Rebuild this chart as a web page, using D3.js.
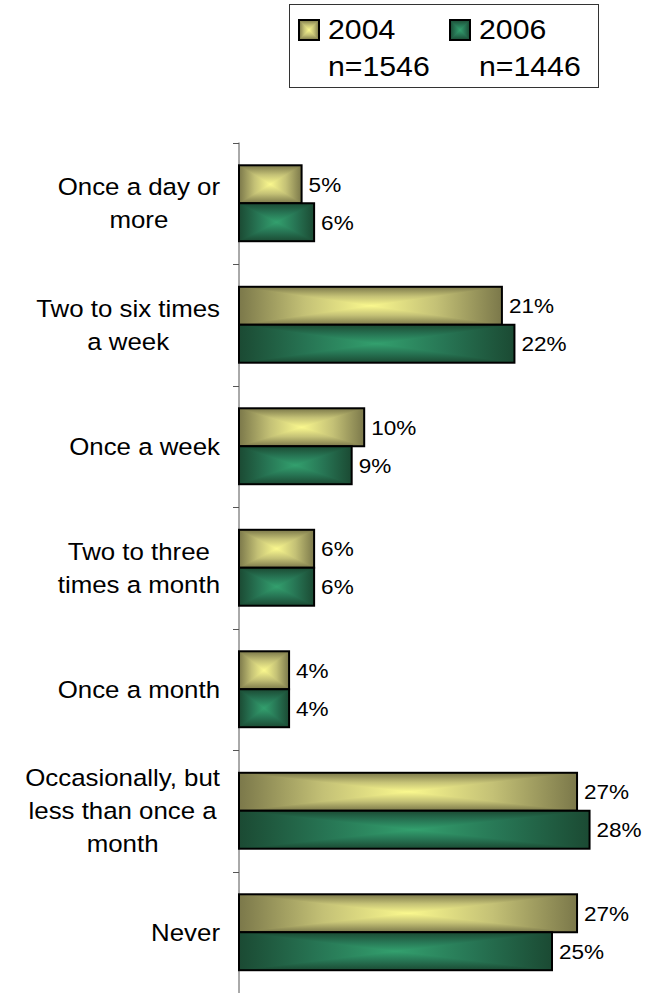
<!DOCTYPE html>
<html><head><meta charset="utf-8">
<script src="https://cdn.jsdelivr.net/npm/d3@7"></script>
<style>
html,body{margin:0;padding:0;background:#fff;}
svg{display:block;}
text{font-family:"Liberation Sans",Arial,sans-serif;fill:#000;}
</style></head>
<body>
<svg id="chart" width="658" height="993"></svg>
<script>
const categories = [
  ["Once a day or","more"],
  ["Two to six times","a week"],
  ["Once a week"],
  ["Two to three","times a month"],
  ["Once a month"],
  ["Occasionally, but","less than once a","month"],
  ["Never"]
];
const series = ["2004","2006"];
const sampleSizes = ["n=1546","n=1446"];
const values2004 = [5, 21, 10, 6, 4, 27, 27];
const values2006 = [6, 22, 9, 6, 4, 28, 25];
const valueLabels2004 = ["5%","21%","10%","6%","4%","27%","27%"];
const valueLabels2006 = ["6%","22%","9%","6%","4%","28%","25%"];

const svg = d3.select("#chart");
const SX = 1.1; // horizontal text stretch

const colors = {
  "2004": {edge:"#7b784a", mid:"#c4c176", center:"#faf88e"},
  "2006": {edge:"#1b4a33", mid:"#277554", center:"#33a06e"}
};

const defs = svg.append("defs");
const dirs = {
  top:    {x1:0,y1:0,x2:0,y2:1},
  bottom: {x1:0,y1:1,x2:0,y2:0}
};
series.forEach(s => {
  Object.entries(dirs).forEach(([k,d]) => {
    const g = defs.append("linearGradient").attr("id", `g${s}${k}`)
      .attr("x1",d.x1).attr("y1",d.y1).attr("x2",d.x2).attr("y2",d.y2);
    g.append("stop").attr("offset",0).attr("stop-color",colors[s].edge);
    g.append("stop").attr("offset",0.5).attr("stop-color",colors[s].mid);
    g.append("stop").attr("offset",1).attr("stop-color",colors[s].center);
  });
  const h = defs.append("linearGradient").attr("id", `g${s}h`)
    .attr("x1",0).attr("y1",0).attr("x2",1).attr("y2",0);
  [[0,"edge"],[0.25,"mid"],[0.5,"center"],[0.75,"mid"],[1,"edge"]].forEach(([o,c]) =>
    h.append("stop").attr("offset",o).attr("stop-color",colors[s][c]));
});

function gradRect(parent, s, x0, y0, x1, y1) {
  const cx = (x0+x1)/2, cy = (y0+y1)/2;
  const g = parent.append("g");
  g.append("rect").attr("x",x0).attr("y",y0).attr("width",x1-x0).attr("height",y1-y0)
    .attr("fill", `url(#g${s}h)`);
  const tris = {
    top:[[x0,y0],[x1,y0],[cx,cy]],
    bottom:[[x0,y1],[x1,y1],[cx,cy]]
  };
  Object.entries(tris).forEach(([k,pts]) => {
    g.append("polygon").attr("points", pts.map(p=>p.join(",")).join(" "))
      .attr("fill", `url(#g${s}${k})`);
  });
  g.append("rect").attr("x",x0).attr("y",y0).attr("width",x1-x0).attr("height",y1-y0)
    .attr("fill","none").attr("stroke","#000").attr("stroke-width",2);
  return g;
}

function stretchedText(parent, x, y, str, size, anchor) {
  return parent.append("text")
    .attr("transform", `translate(${x},${y}) scale(${SX},1)`)
    .attr("text-anchor", anchor || "start")
    .style("font-size", size + "px")
    .text(str);
}

const catIdx = categories.map((c,i)=>i);
const y = d3.scaleBand().domain(catIdx).range([142.5, 993]).paddingInner(0.375).paddingOuter(0.1875);
const ySub = d3.scaleBand().domain(series).range([0, y.bandwidth()]);
const x = d3.scaleLinear().domain([0, 30]).range([239, 239 + 12.52*30]);

// axis
const axisG = svg.append("g").attr("transform", `translate(${x(0)},0)`);
const tickYs = catIdx.map(i => y(i) - y.step()*y.paddingOuter()).concat([993]);
axisG.append("line").attr("x1",0).attr("x2",0).attr("y1",142.5).attr("y2",993)
  .attr("stroke","#555").attr("stroke-width",1);
axisG.selectAll("line.tick").data(tickYs).enter().append("line").attr("class","tick")
  .attr("x1",-6).attr("x2",0).attr("y1",d=>Math.round(d)+0.5).attr("y2",d=>Math.round(d)+0.5)
  .attr("stroke","#555").attr("stroke-width",1);

// bars
const barsG = svg.append("g");
const data = [values2004, values2006];
const labs = [valueLabels2004, valueLabels2006];
catIdx.forEach(i => {
  series.forEach((s, si) => {
    const y0 = y(i) + ySub(s), y1 = y0 + ySub.bandwidth();
    const v = data[si][i];
    gradRect(barsG, s, x(0), y0, x(v), y1);
    stretchedText(barsG, x(v) + 7, (y0+y1)/2 + 7.5, labs[si][i], 20.5);
  });
});

// category labels
const catG = svg.append("g");
const lineH = 33, rightEdge = 220;
catIdx.forEach(i => {
  const lines = categories[i];
  const cy = y(i) + y.bandwidth()/2;
  const base0 = cy + 8.6 - (lines.length-1)*lineH/2;
  const nodes = lines.map((ln, li) => stretchedText(catG, 0, base0 + li*lineH, ln, 23.5, "middle"));
  const widths = nodes.map(n => n.node().getComputedTextLength()*SX);
  const blockW = d3.max(widths);
  const cx = rightEdge - blockW/2;
  nodes.forEach((n, li) => n.attr("transform", `translate(${cx},${base0 + li*lineH}) scale(${SX},1)`));
});

// legend
const lg = svg.append("g");
lg.append("rect").attr("x",289.5).attr("y",4.5).attr("width",309).attr("height",83)
  .attr("fill","#fff").attr("stroke","#333").attr("stroke-width",1);
const legX = [299, 450];
series.forEach((s, si) => {
  gradRect(lg, s, legX[si], 20, legX[si]+20, 40);
  stretchedText(lg, legX[si]+29, 39, s, 27.5);
  stretchedText(lg, legX[si]+29, 76, sampleSizes[si], 27.5);
});
</script>
</body></html>
